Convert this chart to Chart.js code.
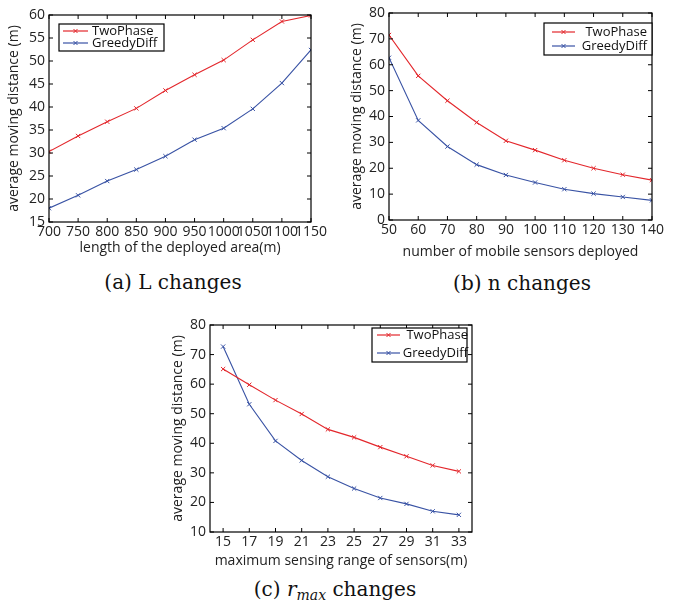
<!DOCTYPE html>
<html>
<head>
<meta charset="utf-8">
<script src="https://cdn.jsdelivr.net/npm/chart.js@4.4.1/dist/chart.umd.min.js"></script>
<style>
  body { margin: 0; background: #fff; width: 686px; height: 606px; position: relative; overflow: hidden; }
  canvas { position: absolute; }
  .cap { position: absolute; font-family: "DejaVu Serif", serif; font-size: 20px; color: #111;
         white-space: nowrap; transform: translate(-50%, -50%); }
  .cap sub { font-size: 14px; vertical-align: -4px; }
</style>
</head>
<body>
<canvas id="chartL" width="340" height="257" style="left:0;top:0"></canvas>
<canvas id="chartN" width="346" height="260" style="left:340px;top:0"></canvas>
<canvas id="chartR" width="340" height="260" style="left:170px;top:310px"></canvas>
<div class="cap" style="left:173px;top:282px">(a) L changes</div>
<div class="cap" style="left:522px;top:283px">(b) n changes</div>
<div class="cap" style="left:335px;top:590px">(c) <i>r</i><sub><i>max</i></sub> changes</div>

<script>
// (a) length of the deployed area
const lengthL = [700, 750, 800, 850, 900, 950, 1000, 1050, 1100, 1150];
const twoPhaseL = [30.3, 33.7, 36.8, 39.7, 43.6, 47.0, 50.2, 54.6, 58.6, 59.9];
const greedyL = [18.0, 20.8, 23.9, 26.4, 29.3, 32.9, 35.4, 39.6, 45.2, 52.4];
const yTicksL = [15, 20, 25, 30, 35, 40, 45, 50, 55, 60];

// (b) number of mobile sensors
const sensorsN = [50, 60, 70, 80, 90, 100, 110, 120, 130, 140];
const twoPhaseN = [71.5, 55.7, 46.1, 37.7, 30.6, 27.0, 23.1, 20.0, 17.5, 15.4];
const greedyN = [62.7, 38.5, 28.4, 21.4, 17.4, 14.5, 11.9, 10.2, 8.9, 7.6];
const yTicksN = [0, 10, 20, 30, 40, 50, 60, 70, 80];

// (c) maximum sensing range
const rangeR = [15, 17, 19, 21, 23, 25, 27, 29, 31, 33];
const twoPhaseR = [65.1, 59.8, 54.6, 49.9, 44.7, 42.0, 38.7, 35.6, 32.5, 30.5];
const greedyR = [72.7, 53.2, 40.8, 34.2, 28.7, 24.7, 21.5, 19.5, 17.0, 15.8];
const yTicksR = [10, 20, 30, 40, 50, 60, 70, 80];

const seriesNames = ['TwoPhase', 'GreedyDiff'];
const RED = '#e3262b';
const BLUE = '#3852a4';

// box around the plot, ticks pointing inward on all four sides
const frame = {
  id: 'frame',
  afterDatasetsDraw(chart) {
    const { ctx, chartArea: a, scales } = chart;
    const t = 4;
    ctx.save();
    ctx.strokeStyle = '#000';
    ctx.lineWidth = 1.2;
    ctx.strokeRect(a.left, a.top, a.right - a.left, a.bottom - a.top);
    ctx.lineWidth = 1;
    ctx.beginPath();
    scales.x.ticks.forEach(tk => {
      const px = scales.x.getPixelForValue(tk.value);
      ctx.moveTo(px, a.bottom); ctx.lineTo(px, a.bottom - t);
      ctx.moveTo(px, a.top); ctx.lineTo(px, a.top + t);
    });
    scales.y.ticks.forEach(tk => {
      const py = scales.y.getPixelForValue(tk.value);
      ctx.moveTo(a.left, py); ctx.lineTo(a.left + t, py);
      ctx.moveTo(a.right, py); ctx.lineTo(a.right - t, py);
    });
    ctx.stroke();
    ctx.restore();
  }
};

// boxed legend with line + marker samples
const boxLegend = {
  id: 'boxLegend',
  afterDraw(chart, args, o) {
    const ctx = chart.ctx;
    ctx.save();
    ctx.fillStyle = '#fff';
    ctx.fillRect(o.x, o.y, o.w, o.h);
    ctx.strokeStyle = '#000';
    ctx.lineWidth = 1.2;
    ctx.strokeRect(o.x, o.y, o.w, o.h);
    ctx.font = '13px "Open Sans", sans-serif';
    ctx.textBaseline = 'middle';
    chart.data.datasets.forEach((ds, i) => {
      const cy = o.rows[i];
      ctx.strokeStyle = ds.borderColor;
      ctx.globalAlpha = 0.75;
      ctx.lineWidth = 1.6;
      ctx.beginPath();
      ctx.moveTo(o.lineFrom, cy); ctx.lineTo(o.lineTo, cy);
      ctx.stroke();
      ctx.globalAlpha = 1;
      ctx.lineWidth = 1;
      const mx = (o.lineFrom + o.lineTo) / 2, r = 2;
      ctx.beginPath();
      ctx.moveTo(mx - r, cy - r); ctx.lineTo(mx + r, cy + r);
      ctx.moveTo(mx - r, cy + r); ctx.lineTo(mx + r, cy - r);
      ctx.stroke();
      ctx.fillStyle = '#111';
      ctx.textAlign = o.align;
      ctx.fillText(ds.label, o.textX, cy);
    });
    ctx.restore();
  }
};

function makeChart(id, xs, ys1, ys2, xTicks, yTicks, xr, yr, xTitle, box) {
  const tickFont = { family: '"Open Sans", sans-serif', size: 14 };
  const titleFont = { family: '"Open Sans", sans-serif', size: 14 };
  const toPts = ys => ys.map((v, i) => ({ x: xs[i], y: v }));
  const line = (label, color, ys) => ({
    label, data: toPts(ys), borderColor: color, backgroundColor: color,
    borderWidth: 1.1, pointStyle: 'crossRot', pointRadius: 3, pointBorderWidth: 1,
    tension: 0
  });
  return new Chart(document.getElementById(id), {
    type: 'line',
    data: { datasets: [line(seriesNames[0], RED, ys1), line(seriesNames[1], BLUE, ys2)] },
    options: {
      responsive: false,
      animation: false,
      events: [],
      layout: { padding: box.pad },
      plugins: { legend: { display: false }, tooltip: { enabled: false }, boxLegend: box.legend },
      scales: {
        x: {
          type: 'linear', min: xr[0], max: xr[1],
          grid: { display: false, drawTicks: false },
          border: { display: false },
          afterBuildTicks: s => { s.ticks = xTicks.map(v => ({ value: v })); },
          afterFit: s => { s.height = box.xh; s.paddingLeft = 0; s.paddingRight = 0; },
          ticks: { autoSkip: false, maxRotation: 0, padding: 2, color: '#222', font: tickFont,
                   callback: v => String(v) },
          title: { display: true, text: xTitle, color: '#222', font: titleFont, padding: box.xtPad }
        },
        y: {
          min: yr[0], max: yr[1],
          grid: { display: false, drawTicks: false },
          border: { display: false },
          afterBuildTicks: s => { s.ticks = yTicks.map(v => ({ value: v })); },
          afterFit: s => { s.width = box.yw; s.paddingTop = 0; s.paddingBottom = 0; },
          ticks: { padding: 4, color: '#222', font: tickFont, callback: v => String(v) },
          title: { display: true, text: 'average moving distance (m)', color: '#222', font: titleFont, padding: box.ytPad }
        }
      }
    },
    plugins: [frame, boxLegend]
  });
}

makeChart('chartL', lengthL, twoPhaseL, greedyL, lengthL, yTicksL, [700, 1150], [15, 60],
  'length of the deployed area(m)', {
    pad: { left: 0, right: 29, top: 15, bottom: 0 }, xh: 35, yw: 49,
    xtPad: { top: 0, bottom: 1 }, ytPad: { top: 6, bottom: 0 },
    legend: { x: 59, y: 24, w: 105, h: 27, rows: [31, 43], lineFrom: 63, lineTo: 88, textX: 92, align: 'left' }
  });

makeChart('chartN', sensorsN, twoPhaseN, greedyN, sensorsN, yTicksN, [50, 140], [0, 80],
  'number of mobile sensors deployed', {
    pad: { left: 0, right: 34, top: 13, bottom: 0 }, xh: 40, yw: 49,
    xtPad: { top: 0, bottom: 0 }, ytPad: { top: 9, bottom: 0 },
    legend: { x: 204, y: 23, w: 108, h: 32, rows: [32, 46], lineFrom: 212, lineTo: 235, textX: 307, align: 'right' }
  });

makeChart('chartR', rangeR, twoPhaseR, greedyR, rangeR, yTicksR, [14, 34], [10, 80],
  'maximum sensing range of sensors(m)', {
    pad: { left: 0, right: 38, top: 15, bottom: 0 }, xh: 38, yw: 40,
    xtPad: { top: 0, bottom: 1 }, ytPad: { top: 0, bottom: 0 },
    legend: { x: 202, y: 18, w: 95, h: 34, rows: [25, 43], lineFrom: 207, lineTo: 230, textX: 298, align: 'right' }
  });
</script>
</body>
</html>
